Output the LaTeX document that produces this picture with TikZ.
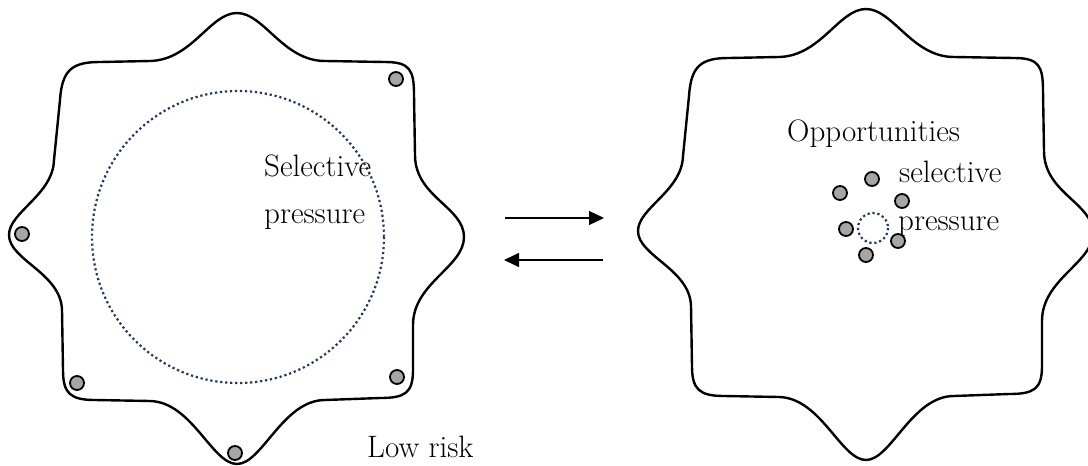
\documentclass[tikz,border=0pt]{standalone}
\usetikzlibrary{arrows.meta}
\definecolor{dotgray}{HTML}{A6A6A6}
\definecolor{navy}{HTML}{1F3864}
\begin{document}
\begin{tikzpicture}[x=1pt,y=-1pt,
  blob/.style={draw=black, line width=2.4pt, line join=round},
  dot/.style={circle, draw=black, line width=1.8pt, fill=dotgray, minimum size=14pt, inner sep=0pt},
  zone/.style={draw=navy, line width=2.2pt, dash pattern=on 2.2pt off 2.8pt},
  lbl/.style={anchor=base west, inner sep=0pt, font=\fontsize{31}{36}\selectfont},
  flow/.style={line width=1.2pt, -{Triangle[length=15pt,width=14pt]}}]
\useasboundingbox (0,0) rectangle (1088,466);
\def\blobpath{(9,235) .. controls (9,212) and (53,195) .. (54,160) -- (60,100)
 .. controls (62,70) and (72,62) .. (100,62) -- (150,61)
 .. controls (192,60) and (210,13) .. (237,13)
 .. controls (264,13) and (283,61) .. (325,61) -- (385,62)
 .. controls (410,62) and (414,70) .. (414,95) -- (415,155)
 .. controls (415,197) and (464,207) .. (464,237)
 .. controls (464,267) and (413,283) .. (413,325) -- (413,370)
 .. controls (413,393) and (405,398) .. (380,398) -- (325,400)
 .. controls (283,400) and (262,464) .. (237,464)
 .. controls (212,464) and (192,402) .. (150,401) -- (95,400)
 .. controls (70,400) and (63,393) .. (63,370) -- (62,310)
 .. controls (61,273) and (9,260) .. cycle}
% left shape
\draw[blob] \blobpath;
\draw[zone] (238,237) circle[radius=146];
\node[lbl] (sel) at (264,176) {Selective};
\node[lbl] (pre) at (264,223) {pressure};
\node[lbl] (low) at (367,457) {Low risk};
\node[dot] (a1) at (396,79) {};
\node[dot] (a2) at (22,234) {};
\node[dot] (a3) at (77,383) {};
\node[dot] (a4) at (397,377) {};
\node[dot] (a5) at (235,453) {};
% right shape
\begin{scope}[shift={(629,-4)}]
\draw[blob] \blobpath;
\end{scope}
\draw[zone] (873,228) circle[radius=15];
\node[lbl] (opp) at (787,141) {Opportunities};
\node[lbl] (sel2) at (899,182) {selective};
\node[lbl] (pre2) at (898,230) {pressure};
\node[dot] (b1) at (872,179) {};
\node[dot] (b2) at (840,193) {};
\node[dot] (b3) at (902,201) {};
\node[dot] (b4) at (846,229) {};
\node[dot] (b5) at (898,241) {};
\node[dot] (b6) at (866,255) {};
% arrows
\coordinate (r0) at (505,218);
\coordinate (r1) at (604,218);
\coordinate (l0) at (603,260);
\coordinate (l1) at (504,260);
\draw[flow] (r0) -- (r1);
\draw[flow] (l0) -- (l1);
\end{tikzpicture}
\end{document}
